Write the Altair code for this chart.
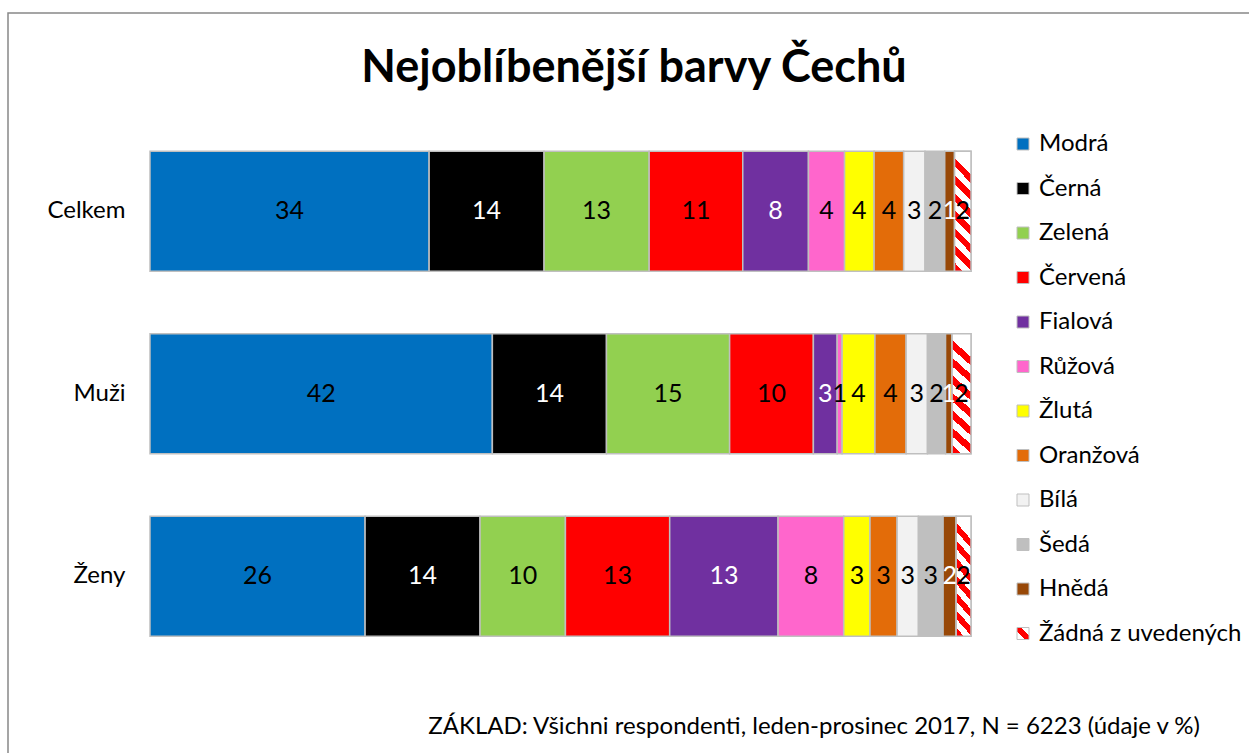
import altair as alt
import pandas as pd

groups = ["Celkem", "Muži", "Ženy"]
barvy = ["Modrá", "Černá", "Zelená", "Červená", "Fialová", "Růžová", "Žlutá",
         "Oranžová", "Bílá", "Šedá", "Hnědá", "Žádná z uvedených"]
celkem = [34.0, 14.0, 12.8, 11.4, 8.0, 4.4, 3.6, 3.6, 2.6, 2.4, 1.2, 2.0]
muzi = [41.7, 13.9, 15.0, 10.2, 2.9, 0.6, 4.0, 3.8, 2.6, 2.2, 0.8, 2.3]
zeny = [26.2, 14.0, 10.4, 12.7, 13.2, 8.0, 3.2, 3.3, 2.6, 3.0, 1.6, 1.8]
swatch_expr = ("{gradient:'linear', id:'zadnaSwatch', x1:0, y1:1, x2:1, y2:0, stops:["
               "{offset:0,color:'#FFFFFF'},{offset:0.32,color:'#FFFFFF'},"
               "{offset:0.32,color:'#FF0000'},{offset:0.68,color:'#FF0000'},"
               "{offset:0.68,color:'#FFFFFF'},{offset:1,color:'#FFFFFF'}]}")
palette = ["#0070C0", "#000000", "#92D050", "#FF0000", "#7030A0", "#FF66CC",
           "#FFFF00", "#E36C09", "#F2F2F2", "#BFBFBF", "#984807", alt.ExprRef(swatch_expr)]
white_text = ["Černá", "Fialová", "Hnědá"]
title_text = "Nejoblíbenější barvy Čechů"
footnote = "ZÁKLAD: Všichni respondenti, leden-prosinec 2017, N = 6223 (údaje v %)"

rows = []
for g, vals in zip(groups, [celkem, muzi, zeny]):
    for i, (b, v) in enumerate(zip(barvy, vals)):
        rows.append({"skupina": g, "barva": b, "idx": i, "hodnota": v})
df = pd.DataFrame(rows)

FONT = "Lato"
FS = 24

base = alt.Chart(df).transform_stack(
    stack="hodnota", groupby=["skupina"], sort=[alt.SortField("idx")], as_=["v0", "v1"]
).transform_calculate(mid="(datum.v0 + datum.v1) / 2")

xscale = alt.Scale(domain=[0, 100], nice=False, zero=True)
yscale = alt.Scale(domain=groups, paddingInner=0.342, paddingOuter=0.171)

y_enc = alt.Y("skupina:N", scale=yscale, sort=groups,
              axis=alt.Axis(title=None, ticks=False, domain=False, labelFontSize=FS,
                            labelFont=FONT, labelColor="#000000", labelPadding=25))

bars = base.mark_bar(stroke="#BFBFBF", strokeWidth=1.5).encode(
    x=alt.X("v0:Q", scale=xscale, axis=None),
    x2="v1:Q",
    y=y_enc,
    color=alt.Color("barva:N", scale=alt.Scale(domain=barvy, range=palette),
                    legend=alt.Legend(title=None, orient="none", legendX=861, legendY=12,
                                      symbolType="square", symbolSize=144,
                                      symbolStrokeColor="#BFBFBF", symbolStrokeWidth=1,
                                      labelFontSize=FS, labelFont=FONT, labelColor="#000000",
                                      labelOffset=4, rowPadding=20.5, labelLimit=400, padding=0)),
)

n = 7
stops = []
for k in range(n):
    stops.append(alt.GradientStop(offset=k / n, color="#FF0000"))
    stops.append(alt.GradientStop(offset=(k + 0.5) / n, color="#FF0000"))
    stops.append(alt.GradientStop(offset=(k + 0.5) / n, color="#FFFFFF"))
    stops.append(alt.GradientStop(offset=(k + 1) / n, color="#FFFFFF"))
grad = alt.LinearGradient(gradient="linear", stops=stops, x1=0, y1=1, x2=0.14, y2=0)

stripes = base.transform_filter(alt.datum.barva == "Žádná z uvedených").mark_bar(
    color=grad, stroke="#BFBFBF", strokeWidth=1.5
).encode(x=alt.X("v0:Q", scale=xscale, axis=None), x2="v1:Q", y=y_enc)

white_test = " || ".join("datum.barva === '%s'" % w for w in white_text)
labels = base.mark_text(fontSize=25, font=FONT, baseline="middle", align="center").encode(
    x=alt.X("mid:Q", scale=xscale, axis=None),
    y=y_enc,
    text=alt.Text("hodnota:Q", format=".0f"),
    color=alt.condition(white_test, alt.value("#FFFFFF"), alt.value("#000000")),
)

text_df = pd.DataFrame({"t": [footnote], "h": [title_text]})
note = alt.Chart(text_df).mark_text(fontSize=FS, font=FONT, align="right",
                                    baseline="alphabetic", color="#000000").encode(
    x=alt.value(1050), y=alt.value(614), text="t:N")

title = alt.Chart(text_df).mark_text(fontSize=45, font=FONT, fontWeight="bold", align="center",
                                     baseline="alphabetic", color="#000000").encode(
    x=alt.value(484), y=alt.value(-38), text="h:N")

frame = alt.Chart(text_df).mark_rect(fillOpacity=0, stroke="#888888", strokeWidth=1.5).encode(
    x=alt.value(-142), x2=alt.value(1110), y=alt.value(-107), y2=alt.value(650))

chart = alt.layer(frame, bars, stripes, labels, note, title).properties(
    width=821, height=547.5,
    autosize=alt.AutoSizeParams(type="none"),
    padding={"left": 150, "top": 120, "right": 278, "bottom": 85.5},
).configure_view(strokeWidth=0)

chart.save("out.html", embed_options={"renderer": "svg", "actions": False})
